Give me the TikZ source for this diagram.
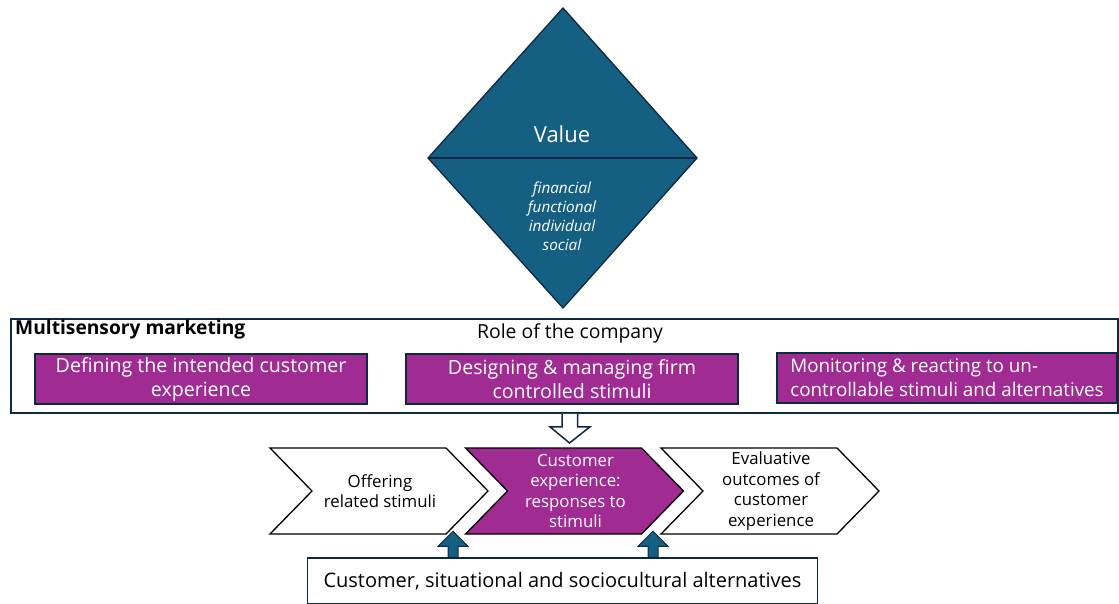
\documentclass[tikz,border=0pt]{standalone}
\usepackage{fontspec}
\setmainfont{Open Sans}
\usetikzlibrary{calc}
\definecolor{valueblue}{HTML}{156082}
\definecolor{plum}{HTML}{A02B93}
\definecolor{ink}{HTML}{0E2841}

\tikzset{
  edge/.style={draw=ink, line width=1.3pt},
  rolebox/.style={edge, line width=1.8pt, inner sep=0pt},
  taskbox/.style={edge, fill=plum, text=white, minimum height=50pt, inner sep=0pt,
    font=\fontsize{19.6}{24}\selectfont},
  chevron/.style={draw=black, line width=1.3pt, line join=miter},
  chevtext/.style={align=center, font=\fontsize{16.8}{20.5}\selectfont},
  hollowarrow/.style={draw=ink, line width=1.5pt, fill=white, line join=miter},
  solidarrow/.style={draw=ink, line width=1pt, fill=valueblue, line join=miter},
}

\begin{document}
\begin{tikzpicture}[x=1pt, y=-1pt]
\useasboundingbox (0,0) rectangle (1119,604);

% value diamond
\coordinate (dT) at (563,8);
\coordinate (dR) at (697,158);
\coordinate (dB) at (563,308);
\coordinate (dL) at (428,158);
\draw[edge, fill=valueblue, line join=miter] (dT) -- (dR) -- (dB) -- (dL) -- cycle;
\draw[edge] (dL) -- (dR);
\node[text=white, font=\fontsize{22}{26}\selectfont] (value) at (562,134) {Value};
\node[text=white, align=center, font=\itshape\fontsize{15.3}{19}\selectfont] (dims) at (562,216)
  {financial\\functional\\individual\\social};

% role of the company frame
\node[rolebox, minimum width=1107pt, minimum height=94pt, anchor=north west] (role) at (10,318) {};
\node[font=\bfseries\fontsize{19.2}{22}\selectfont, anchor=west, inner sep=0pt] (ms) at (15,330) {Multisensory marketing};
\node[font=\fontsize{19.4}{22}\selectfont] (roletitle) at (570,333) {Role of the company};

\node[taskbox, minimum width=332pt, align=center] (define) at (201,379)
  {Defining the intended customer\\experience};
\node[taskbox, minimum width=332pt, align=center] (design) at (572,379)
  {Designing \& managing firm\\controlled stimuli};
\node[taskbox, minimum width=340pt, align=left, font=\fontsize{18.8}{24}\selectfont] (monitor) at (947,378)
  {Monitoring \& reacting to un-\\controllable stimuli and alternatives};

% process chevrons
\foreach \L/\name/\col in {270/chevA/white, 465.5/chevB/plum, 661/chevC/white}{
  \draw[chevron, fill=\col] (\L,448) -- ++(176,0) -- ++(42,43) -- ++(-42,43)
    -- ++(-176,0) -- ++(42,-43) -- cycle;
  \coordinate (\name) at (\L+110,491);
}
\node[chevtext] (offer) at (chevA) {Offering\\related stimuli};
\node[chevtext, text=white] (cx) at (chevB) {Customer\\experience:\\responses to\\stimuli};
\node[chevtext] (outcome) at (chevC) {Evaluative\\outcomes of\\customer\\experience};

% alternatives box
\node[edge, line width=1.5pt, minimum width=510pt, minimum height=46pt, inner sep=0pt,
  font=\fontsize{20}{24}\selectfont] (alt) at (562.5,581) {Customer, situational and sociocultural alternatives};

% hollow arrow from the company frame to the customer experience
\coordinate (hTop) at (role.south -| 569.5,0);
\coordinate (hTip) at (569.5,443);
\draw[hollowarrow] ($(hTop)+(-7.5,0)$) -- ++(0,13) -- ++(-12,0) -- (hTip)
  -- ($(hTop)+(20.5,13)$) -- ++(-12.5,0) -- ++(0,-13);

% upward arrows from the alternatives box
\foreach \x/\n in {453/upA, 653/upB}{
  \coordinate (\n) at (\x,0);
  \draw[solidarrow] ($(alt.north -| \n)+(-5,0)$) -- ++(0,-11) -- ++(-10,0)
    -- ($(alt.north -| \n)+(0,-26)$) -- ($(alt.north -| \n)+(15,-11)$) -- ++(-10,0) -- ++(0,11) -- cycle;
}
\end{tikzpicture}
\end{document}
